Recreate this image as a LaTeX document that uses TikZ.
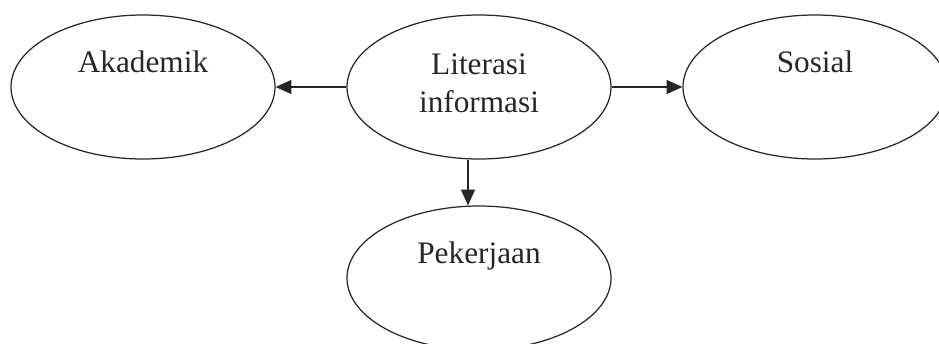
\documentclass[tikz,border=0pt]{standalone}
\usepackage{fontspec}
\setmainfont{Liberation Serif}
\usetikzlibrary{shapes.geometric,arrows.meta}

\begin{document}
\begin{tikzpicture}[>={Triangle[length=9pt,width=8pt]}, line width=0.7pt, color=black!85, font=\fontsize{17.8}{21.6}\selectfont,
  bubble/.style={draw, ellipse, minimum width=5.28cm, minimum height=2.88cm, inner sep=0pt, align=center},
  toptext/.style={text height=12pt, text depth=29pt}]
\useasboundingbox (0,0) rectangle (18.78,-6.86);
\clip (0,0) rectangle (18.78,-6.86);

\node[bubble, text depth=4pt] (lit) at (9.58,-1.74) {Literasi\\informasi};
\node[bubble, toptext] (aka) at (2.86,-1.74) {Akademik};
\node[bubble, toptext] (sos) at (16.30,-1.74) {Sosial};
\node[bubble, toptext] (pek) at (9.58,-5.56) {Pekerjaan};

\draw[->] (lit.west) -- (aka.east);
\draw[->] (lit.east) -- (sos.west);
\draw[->] ([xshift=-0.22cm]lit.south) -- ([xshift=-0.22cm]lit.south |- pek.north);
\end{tikzpicture}
\end{document}
